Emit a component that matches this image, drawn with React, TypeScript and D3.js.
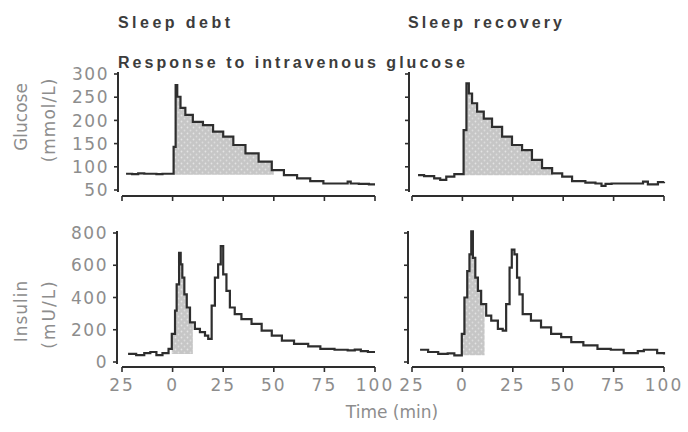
import React from "react";
import * as d3 from "d3";

// ---------- data ----------
const timeTicks = [-25, 0, 25, 50, 75, 100];
const timeTickLabels = ["25", "0", "25", "50", "75", "100"];
const glucoseTicks = [50, 100, 150, 200, 250, 300];
const insulinTicks = [0, 200, 400, 600, 800];

const columnTitles = ["Sleep debt", "Sleep recovery"];
const subtitle = "Response to intravenous glucose";
const glucoseLabel = ["Glucose", "(mmol/L)"];
const insulinLabel = ["Insulin", "(mU/L)"];
const timeLabel = "Time (min)";

const debtGlucoseTime = [-23, -20, -17, -14, -11, -8, -5, -2, 0.5, 1.5, 2.3, 3.9, 6.3, 10, 15, 20, 25, 30, 36, 42.5, 49, 55, 61.5, 68, 74.5, 80, 86.5, 88, 92, 97, 100];
const debtGlucose = [85, 84, 86, 85, 85, 84, 85, 85, 143, 276, 251, 227, 212, 197, 190, 176, 165, 147, 129, 111, 93, 82, 75, 69, 64, 64, 68, 64, 63, 62, 62];

const recoveryGlucoseTime = [-22, -19, -14, -11, -8, -4, -1, 0.6, 2, 3.2, 4.8, 7.3, 10.6, 14.7, 19.7, 24.6, 29.6, 34.5, 39.5, 44.5, 49.5, 54.4, 61, 66, 69, 71, 74, 80, 87, 89.6, 92, 97, 100];
const recoveryGlucose = [82, 80, 75, 72, 79, 84, 84, 179, 280, 258, 237, 219, 204, 186, 165, 147, 136, 115, 97, 86, 79, 69, 66, 64, 59, 63, 64, 64, 64, 68, 62, 67, 68];

const debtInsulinTime = [-22, -18, -14, -11, -8, -5, -2, -0.4, 1.2, 2, 3.2, 4, 4.8, 5.8, 7, 8.6, 11, 13.5, 16, 17.6, 19.3, 20.9, 22.5, 23.8, 25, 26.6, 28.3, 30.7, 34, 39, 44, 49, 54, 60, 67, 73, 80, 86.5, 90, 93, 96.5, 100];
const debtInsulin = [50, 43, 55, 62, 43, 55, 82, 174, 318, 482, 677, 605, 523, 420, 338, 246, 205, 185, 164, 143, 349, 523, 605, 718, 543, 441, 338, 297, 266, 236, 195, 164, 133, 113, 97, 82, 76, 72, 77, 68, 62, 62];

const recoveryInsulinTime = [-21, -17, -12, -7.3, -4, -1.5, -0.3, 1, 2.4, 3.5, 4.4, 5.2, 6.4, 7.7, 9.3, 11.8, 14.3, 17.6, 20, 21.7, 23.4, 24.5, 25.8, 27.1, 28.3, 29.9, 34, 39, 44, 49, 54, 60, 67, 73.6, 80, 87, 90, 96.6, 100];
const recoveryInsulin = [76, 62, 51, 54, 41, 41, 174, 400, 564, 667, 810, 646, 523, 441, 359, 287, 257, 205, 195, 359, 585, 697, 667, 523, 420, 297, 257, 215, 174, 154, 123, 103, 82, 76, 55, 68, 76, 55, 47];

// shaded windows [start, end] and shading base level
const glucoseFillWindow = [[0.5, 50], [0.6, 45]];
const glucoseFillBase = [83, 82];
const insulinFillWindow = [[-0.4, 10], [-0.3, 11]];
const insulinFillBase = [50, 42];

// ---------- styles ----------
const TICK_FONT = "'DejaVu Sans', sans-serif";
const GREY = "#8d8d8d";
const LINE = "#2e2e2e";

type Pt = { t: number; v: number };
const zip = (ts: number[], vs: number[]): Pt[] => ts.map((t, i) => ({ t, v: vs[i] }));

type PanelProps = {
  xRange: [number, number];
  yDomain: [number, number];
  yRange: [number, number];
  yAxisX: number;
  yAxisExtent: [number, number];
  xAxisY: number;
  data: Pt[];
  fillWin: number[];
  fillBase: number;
  yTicks: number[];
  showYLabels: boolean;
  showXLabels: boolean;
};

function Panel(p: PanelProps) {
  const x = d3.scaleLinear().domain([-25, 100]).range(p.xRange);
  const y = d3.scaleLinear().domain(p.yDomain).range(p.yRange);
  const line = d3
    .line<Pt>()
    .x((d) => x(d.t))
    .y((d) => y(d.v))
    .curve(d3.curveStepAfter);
  const inWin = p.data.filter((d) => d.t >= p.fillWin[0] && d.t < p.fillWin[1]);
  const fillPts = inWin.concat([{ t: p.fillWin[1], v: inWin[inWin.length - 1].v }]);
  const area = d3
    .area<Pt>()
    .x((d) => x(d.t))
    .y0(() => y(p.fillBase))
    .y1((d) => y(d.v))
    .curve(d3.curveStepAfter);
  return (
    <g>
      <path d={area(fillPts) || ""} fill="url(#dots)" />
      <path d={line(p.data) || ""} fill="none" stroke={LINE} strokeWidth={2.2} />
      {/* y axis */}
      <line x1={p.yAxisX} x2={p.yAxisX} y1={p.yAxisExtent[0]} y2={p.yAxisExtent[1]} stroke={LINE} strokeWidth={2} />
      {p.yTicks.map((t) => (
        <g key={"y" + t}>
          <line x1={p.yAxisX - 4} x2={p.yAxisX} y1={y(t)} y2={y(t)} stroke={LINE} strokeWidth={1.6} />
          {p.showYLabels && (
            <text
              x={p.yAxisX - 9}
              y={y(t)}
              dy="0.36em"
              textAnchor="end"
              fontFamily={TICK_FONT}
              fontSize={17}
              letterSpacing={1.5}
              fill={GREY}
            >
              {t}
            </text>
          )}
        </g>
      ))}
      {/* x axis */}
      <line x1={x(-25)} x2={x(100)} y1={p.xAxisY} y2={p.xAxisY} stroke={LINE} strokeWidth={2} />
      {timeTicks.map((t, i) => (
        <g key={"x" + t}>
          <line x1={x(t)} x2={x(t)} y1={p.xAxisY} y2={p.xAxisY + 5} stroke={LINE} strokeWidth={1.6} />
          {p.showXLabels && (
            <text
              x={x(t)}
              y={p.xAxisY + 18}
              dy="0.36em"
              textAnchor="middle"
              fontFamily={TICK_FONT}
              fontSize={17}
              letterSpacing={2}
              fill={GREY}
            >
              {timeTickLabels[i]}
            </text>
          )}
        </g>
      ))}
    </g>
  );
}

export default function App() {
  const cols: { xRange: [number, number]; yAxisX: number }[] = [
    { xRange: [122, 375], yAxisX: 118 },
    { xRange: [412, 664], yAxisX: 409 },
  ];
  const glucoseData = [zip(debtGlucoseTime, debtGlucose), zip(recoveryGlucoseTime, recoveryGlucose)];
  const insulinData = [zip(debtInsulinTime, debtInsulin), zip(recoveryInsulinTime, recoveryInsulin)];
  const titleX = [118, 408];
  const titleW = [112, 154];
  return (
    <svg
      width={688}
      height={432}
      style={{ position: "absolute", left: 0, top: 0, background: "#fff" }}
    >
      <defs>
        <pattern id="dots" width={6} height={6} patternUnits="userSpaceOnUse">
          <rect width={6} height={6} fill="#c6c6c6" />
          <circle cx={1.5} cy={1.5} r={0.9} fill="#e4e4e4" />
          <circle cx={4.5} cy={4.5} r={0.9} fill="#dcdcdc" />
        </pattern>
      </defs>
      <rect width={688} height={432} fill="#fff" />
      {columnTitles.map((t, i) => (
        <text
          key={t}
          x={titleX[i]}
          y={28}
          fontFamily="'Liberation Sans', Arial, sans-serif"
          fontWeight="bold"
          fontSize={16}
          fill="#3c3c3c"
          textLength={titleW[i]}
          lengthAdjust="spacing"
        >
          {t}
        </text>
      ))}
      <text
        x={118}
        y={68}
        fontFamily="'Liberation Sans', Arial, sans-serif"
        fontWeight="bold"
        fontSize={16}
        fill="#3c3c3c"
        textLength={347}
        lengthAdjust="spacing"
      >
        {subtitle}
      </text>

      {cols.map((c, i) => (
        <Panel
          key={"g" + i}
          xRange={c.xRange}
          yDomain={[50, 300]}
          yRange={[190, 74]}
          yAxisX={c.yAxisX}
          yAxisExtent={[72, 192]}
          xAxisY={196}
          data={glucoseData[i]}
          fillWin={glucoseFillWindow[i]}
          fillBase={glucoseFillBase[i]}
          yTicks={glucoseTicks}
          showYLabels={i === 0}
          showXLabels={false}
        />
      ))}
      {cols.map((c, i) => (
        <Panel
          key={"i" + i}
          xRange={c.xRange}
          yDomain={[0, 800]}
          yRange={[362, 233]}
          yAxisX={c.yAxisX - 1}
          yAxisExtent={[231, 364]}
          xAxisY={367}
          data={insulinData[i]}
          fillWin={insulinFillWindow[i]}
          fillBase={insulinFillBase[i]}
          yTicks={insulinTicks}
          showYLabels={i === 0}
          showXLabels={true}
        />
      ))}

      {/* y axis titles */}
      {[glucoseLabel, insulinLabel].map((lab, r) => {
        const cy = r === 0 ? 117 : 311;
        return (
          <g key={"lab" + r} fontFamily={TICK_FONT} fontSize={17} fill={GREY}>
            <text transform={`translate(21,${cy}) rotate(-90)`} textAnchor="middle" dy="0.36em" letterSpacing={r === 0 ? 0 : 1}>
              {lab[0]}
            </text>
            <text transform={`translate(49,${cy + 3}) rotate(-90)`} textAnchor="middle" dy="0.36em" letterSpacing={r === 0 ? 1 : 2}>
              {lab[1]}
            </text>
          </g>
        );
      })}
      <text x={392} y={418} textAnchor="middle" fontFamily={TICK_FONT} fontSize={17} fill={GREY}>
        {timeLabel}
      </text>
    </svg>
  );
}
